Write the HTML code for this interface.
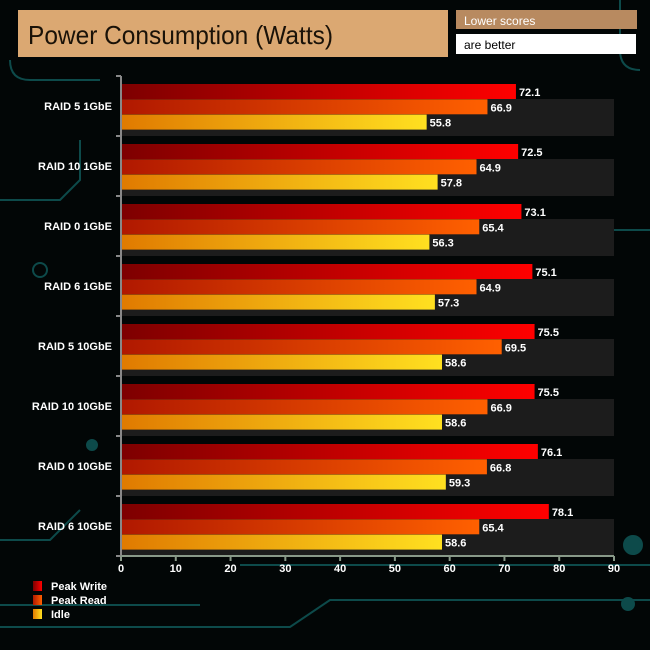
<!DOCTYPE html>
<html><head><meta charset="utf-8"><style>
body{margin:0;background:#000;}
#c{position:relative;width:650px;height:650px;background:#020606;overflow:hidden;font-family:"Liberation Sans",sans-serif;}
</style></head><body>
<div id="c">
<svg width="650" height="650" id="svg">
<defs>
<linearGradient id="gw" x1="0" x2="1"><stop offset="0" stop-color="#7d0000"/><stop offset="1" stop-color="#ff0000"/></linearGradient>
<linearGradient id="gr" x1="0" x2="1"><stop offset="0" stop-color="#b01800"/><stop offset="1" stop-color="#ff6000"/></linearGradient>
<linearGradient id="gi" x1="0" x2="1"><stop offset="0" stop-color="#e07a00"/><stop offset="1" stop-color="#ffe020"/></linearGradient>
</defs>
<g stroke="#0d4a4a" stroke-width="2" fill="none">
<path d="M0 200 H60 L80 180 V140"/><path d="M10 60 Q10 80 30 80 H100"/><path d="M590 230 H650"/><path d="M0 540 H50 L80 510"/><path d="M0 605 H200"/><path d="M240 565 H650"/><path d="M0 627 H290 L330 600 H650"/><path d="M620 0 V50 Q620 70 640 70"/>
<circle cx="633" cy="545" r="9" fill="#0d4a4a"/><circle cx="628" cy="604" r="6" fill="#0d4a4a"/><circle cx="40" cy="270" r="7"/><circle cx="92" cy="445" r="5" fill="#0d4a4a"/>
</g>
<rect x="18" y="10" width="430" height="47" fill="#dba872"/>
<text x="28" y="44" font-size="26" textLength="305" lengthAdjust="spacingAndGlyphs" fill="#1a1208" font-family="Liberation Sans, sans-serif">Power Consumption (Watts)</text>
<rect x="456" y="10" width="181" height="19" fill="#b88a60"/>
<text x="464" y="25" font-size="12" fill="#fff">Lower scores</text>
<rect x="456" y="34" width="180" height="20" fill="#fff"/>
<text x="464" y="49" font-size="12" fill="#000">are better</text>
<g id="plot"></g>
</svg>
</div>
<script>
const categories=["RAID 5 1GbE","RAID 10 1GbE","RAID 0 1GbE","RAID 6 1GbE","RAID 5 10GbE","RAID 10 10GbE","RAID 0 10GbE","RAID 6 10GbE"];
const peakWrite=[72.1,72.5,73.1,75.1,75.5,75.5,76.1,78.1];
const peakRead=[66.9,64.9,65.4,64.9,69.5,66.9,66.8,65.4];
const idle=[55.8,57.8,56.3,57.3,58.6,58.6,59.3,58.6];
const xTicks=[0,10,20,30,40,50,60,70,80,90];
const seriesNames=["Peak Write","Peak Read","Idle"];
const NS="http://www.w3.org/2000/svg";
const g=document.getElementById('plot');
const X0=121,X1=614,Y0=76,BAND=60,XMAX=90;
const xs=v=>X0+(v/XMAX)*(X1-X0);
const by=i=>Y0+i*BAND;
function mk(t,a,p){const e=document.createElementNS(NS,t);for(const k in a)e.setAttribute(k,a[k]);(p||g).appendChild(e);return e;}
const series=[peakWrite,peakRead,idle],fills=["url(#gw)","url(#gr)","url(#gi)"],sk=["write","read","idle"];
categories.forEach((c,i)=>{
  const band=mk('rect',{x:X0,y:by(i)+23,width:X1-X0,height:37,fill:'#1c1c1c'});
  
  
  const lab=mk('text',{x:112,y:by(i)+34,'font-size':11,'font-weight':'bold',fill:'#fff','text-anchor':'end'});
  lab.textContent=c;
  
  
  series.forEach((s,j)=>{
    const y=by(i)+8+j*15.3;
    const r=mk('rect',{x:X0,y:y,width:xs(s[i])-X0,height:15,fill:fills[j]});
    
    
    const t=mk('text',{x:xs(s[i])+3,y:y+12,'font-size':11,'font-weight':'bold',fill:'#fff'});
    t.textContent=s[i].toFixed(1);
    
    
  });
});
const ya=mk('line',{x1:X0,y1:Y0,x2:X0,y2:Y0+8*BAND,stroke:'#888',"stroke-width":2});


for(let i=0;i<=8;i++){const tk=mk('line',{x1:X0-5,y1:by(i),x2:X0,y2:by(i),stroke:'#888',"stroke-width":2});

}
const xa=mk('line',{x1:X0,y1:Y0+8*BAND,x2:X1,y2:Y0+8*BAND,stroke:'#889988',"stroke-width":2});


xTicks.forEach(v=>{
  const tk=mk('line',{x1:xs(v),y1:Y0+8*BAND,x2:xs(v),y2:Y0+8*BAND+5,stroke:'#889988',"stroke-width":2});
  
  
  const t=mk('text',{x:xs(v),y:Y0+8*BAND+16,'font-size':11,'font-weight':'bold',fill:'#fff','text-anchor':'middle'});
  t.textContent=v;
  
  
});
seriesNames.forEach((n,j)=>{
  const y=581+j*14;
  const r=mk('rect',{x:33,y:y,width:9,height:10,fill:fills[j]});
  
  
  const t=mk('text',{x:51,y:y+9,'font-size':11,'font-weight':'bold',fill:'#fff'});
  t.textContent=n;
  
  
});
</script>
</body></html>
